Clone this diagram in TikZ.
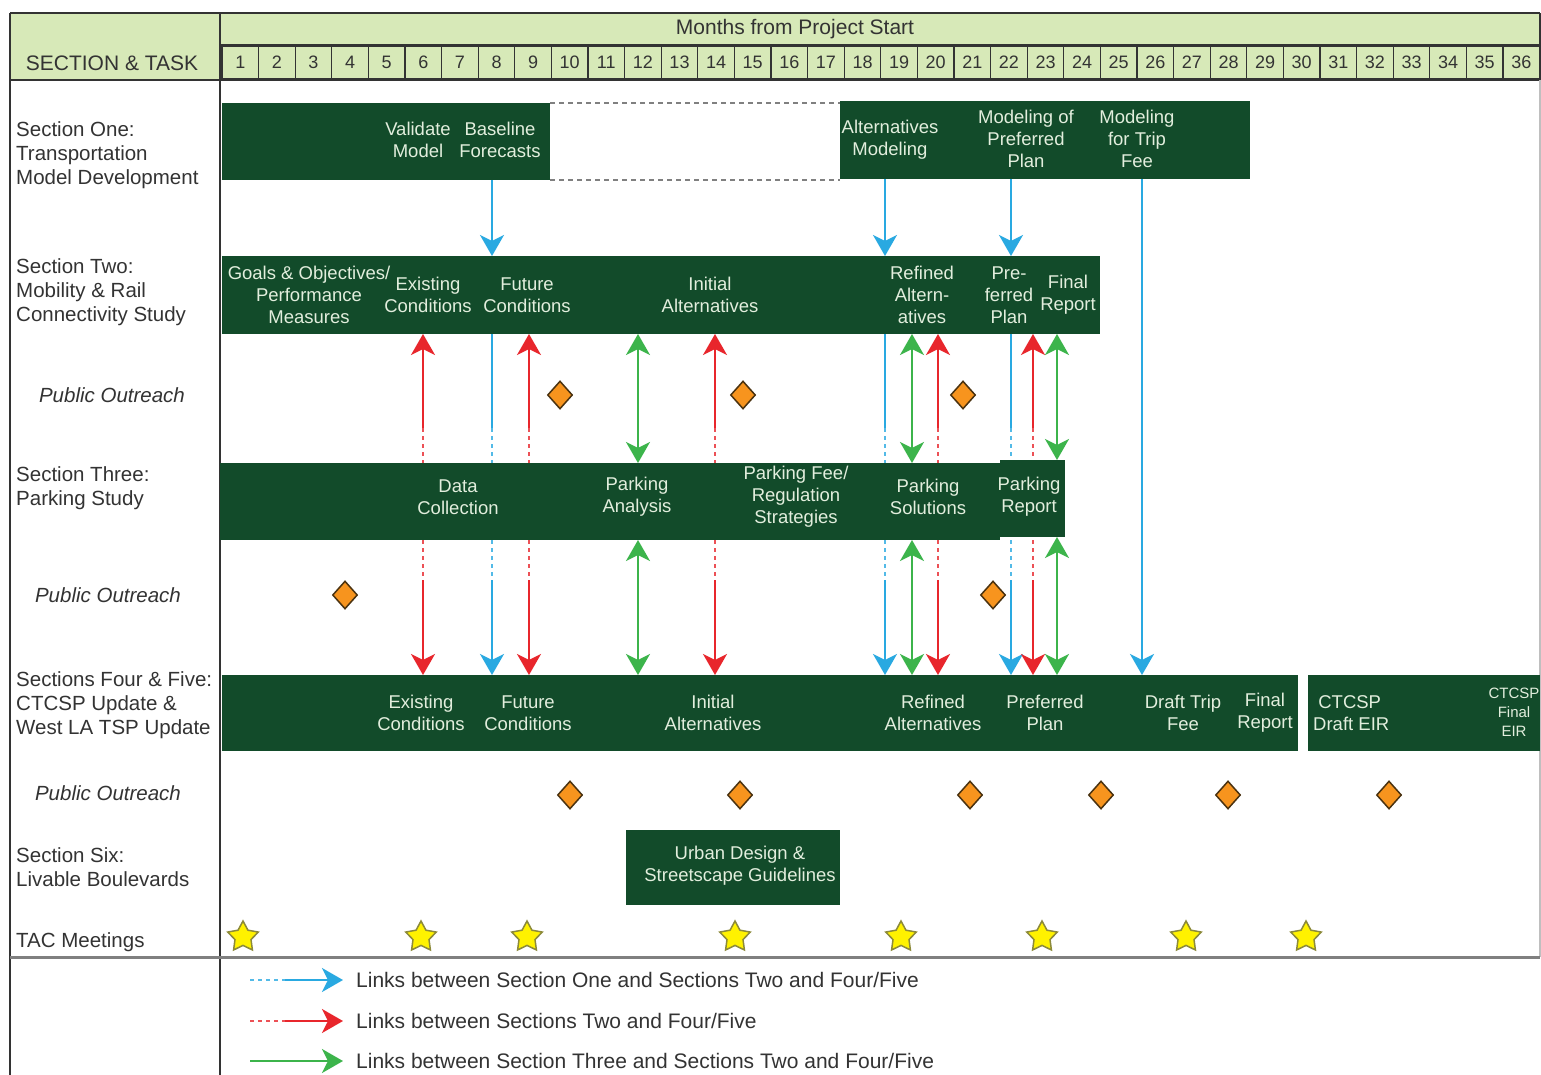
\documentclass[tikz,border=0pt]{standalone}
\usepackage{fontspec}
\setmainfont{Liberation Sans}
\usetikzlibrary{arrows.meta,shapes.geometric,backgrounds,calc}
\definecolor{barG}{HTML}{124B2A}
\definecolor{barT}{HTML}{E2EEDD}
\definecolor{hdrF}{HTML}{D7E9B8}
\definecolor{txtG}{HTML}{333333}
\definecolor{cBlue}{HTML}{29A9E1}
\definecolor{cRed}{HTML}{E8262C}
\definecolor{cGreen}{HTML}{3CB44B}
\definecolor{cOrange}{HTML}{F7941E}
\definecolor{dOut}{HTML}{4A3210}
\definecolor{cYel}{HTML}{FFF200}
\definecolor{sOut}{HTML}{8C8A3A}
\begin{document}
\begin{tikzpicture}[x=1pt,y=-1pt,
  bar/.style={fill=barG, draw=none, anchor=north west, inner sep=0pt, outer sep=0pt},
  bt/.style={text=barT, font=\fontsize{18.5}{22}\selectfont, align=center, inner sep=0pt},
  lbl/.style={font=\fontsize{20.5}{24}\selectfont, align=left, anchor=west, inner sep=0pt, text=txtG},
  po/.style={font=\fontsize{20.5}{24}\selectfont\itshape, inner sep=0pt, text=txtG},
  dia/.style={diamond, fill=cOrange, draw=dOut, line width=1.5pt, minimum width=25pt, minimum height=28pt, inner sep=0pt},
  tac/.style={star, star points=5, star point ratio=1.9, fill=cYel, draw=sOut, line width=1.5pt, minimum size=32pt, inner sep=0pt},
  mcell/.style={draw=txtG, line width=1.2pt, minimum width=36.6pt, minimum height=32pt, inner sep=0pt, font=\fontsize{18}{20}\selectfont, text=txtG},
  lnk/.style={line width=2pt},
  bl/.style={lnk, draw=cBlue},
  rd/.style={lnk, draw=cRed},
  gr/.style={lnk, draw=cGreen},
  dots/.style={line width=1.5pt, dash pattern=on 4pt off 4pt, draw opacity=0.8},
  tip/.tip={Stealth[length=21pt, width=24pt, inset=6pt]},
  lg/.style={font=\fontsize{21}{24}\selectfont, anchor=west, inner sep=0pt, text=txtG}
]
\useasboundingbox (0,0) rectangle (1541,1075);

% ---------- header ----------
\fill[hdrF] (10,13) rectangle (1540,80);
\node[font=\fontsize{21}{24}\selectfont, text=txtG, inner sep=0pt] (months) at (795,29) {Months from Project Start};
\node[font=\fontsize{21}{24}\selectfont, text=txtG, inner sep=0pt] (sectask) at (112,63) {SECTION \& TASK};
\foreach \i in {1,...,36} {
  \node[mcell] (m\i) at ({222+(\i-0.5)*36.6},62.5) {\i};
}
\draw[txtG, line width=2pt] (10,13) -- (1540,13);
\draw[txtG, line width=1.5pt] (220,45) -- (1540,45);
\draw[txtG, line width=2.5pt] (10,80) -- (1540,80);
\draw[txtG, line width=2pt] (1540,13) -- (1540,80);
\draw[gray!50, line width=1.5pt] (1540,80) -- (1540,957);
\draw[txtG, line width=2pt] (10,13) -- (10,1075);
\draw[txtG, line width=2pt] (220,13) -- (220,1075);
\draw[gray, line width=3pt] (10,957) -- (1540,957);

% ---------- row labels ----------
\node[lbl] (l1) at (16,155) {Section One:\\Transportation\\Model Development};
\node[lbl] (l2) at (16,292) {Section Two:\\Mobility \& Rail\\Connectivity Study};
\node[po] (p1) at (112,395) {Public Outreach};
\node[lbl] (l3) at (16,488) {Section Three:\\Parking Study};
\node[po] (p2) at (108,595) {Public Outreach};
\node[lbl] (l4) at (16,705) {Sections Four \& Five:\\CTCSP Update \&\\West LA TSP Update};
\node[po] (p3) at (108,793) {Public Outreach};
\node[lbl] (l6) at (16,867) {Section Six:\\Livable Boulevards};
\node[lbl] (l7) at (16,942) {TAC Meetings};

% ---------- Section One ----------
\node[bar, minimum width=328pt, minimum height=77pt] (s1a) at (222,103) {};
\node[bar, minimum width=410pt, minimum height=78pt] (s1b) at (840,101) {};
\draw[gray, line width=1.5pt, dash pattern=on 5pt off 4pt] (s1a.north east) -- (s1b.north west |- s1a.north);
\draw[gray, line width=1.5pt, dash pattern=on 5pt off 4pt] (s1a.south east) -- (s1b.south west |- s1a.south);
\node[bt] (t1a) at (418,140) {Validate\\Model};
\node[bt] (t1b) at (500,140) {Baseline\\Forecasts};
\node[bt] (t1c) at (890,140) {Alternatives\\Modeling};
\node[bt] (t1d) at (1026,139) {Modeling of\\Preferred\\Plan};
\node[bt] (t1e) at (1137,139) {Modeling\\for Trip\\Fee};

% ---------- Section Two ----------
\node[bar, minimum width=878pt, minimum height=78pt] (s2) at (222,256) {};
\node[bt] (t2a) at (309,295) {Goals \& Objectives/\\Performance\\Measures};
\node[bt] (t2b) at (428,295) {Existing\\Conditions};
\node[bt] (t2c) at (527,295) {Future\\Conditions};
\node[bt] (t2d) at (710,295) {Initial\\Alternatives};
\node[bt] (t2e) at (922,295) {Refined\\Altern-\\atives};
\node[bt] (t2f) at (1009,295) {Pre-\\ferred\\Plan};
\node[bt] (t2g) at (1068,295) {Final\\Report};

% ---------- Section Three ----------
\node[bar, minimum width=780pt, minimum height=77pt] (s3a) at (220,463) {};
\node[bar, minimum width=65pt, minimum height=77pt] (s3b) at (1000,460) {};
\node[bt] (t3a) at (458,497) {Data\\Collection};
\node[bt] (t3b) at (637,497) {Parking\\Analysis};
\node[bt] (t3c) at (796,497) {Parking Fee/\\Regulation\\Strategies};
\node[bt] (t3d) at (928,497) {Parking\\Solutions};
\node[bt] (t3e) at (1029,497) {Parking\\Report};

% ---------- Sections Four & Five ----------
\node[bar, minimum width=1076pt, minimum height=76pt] (s45a) at (222,675) {};
\node[bar, minimum width=232pt, minimum height=76pt] (s45b) at (1308,675) {};
\node[bt] (t4a) at (421,713) {Existing\\Conditions};
\node[bt] (t4b) at (528,713) {Future\\Conditions};
\node[bt] (t4c) at (713,713) {Initial\\Alternatives};
\node[bt] (t4d) at (933,713) {Refined\\Alternatives};
\node[bt] (t4e) at (1045,713) {Preferred\\Plan};
\node[bt] (t4f) at (1183,713) {Draft Trip\\Fee};
\node[bt] (t4g) at (1265,713) {Final\\Report};
\node[bt, align=left, anchor=west] (t4h) at (1313,713) {\ CTCSP\\Draft EIR};
\node[bt, font=\fontsize{15}{19}\selectfont] (t4i) at (1514,712) {CTCSP\\Final\\EIR};

% ---------- Section Six ----------
\node[bar, minimum width=214pt, minimum height=75pt] (s6) at (626,830) {};
\node[bt] (t6) at (740,866) {Urban Design \&\\Streetscape Guidelines};

% ---------- outreach diamonds ----------
\foreach \x [count=\k] in {560,743,963} { \node[dia] (da\k) at (\x,395) {}; }
\foreach \x [count=\k] in {345,993} { \node[dia] (db\k) at (\x,595) {}; }
\foreach \x [count=\k] in {570,740,970,1101,1228,1389} { \node[dia] (dc\k) at (\x,795) {}; }

% ---------- TAC stars ----------
\foreach \x [count=\k] in {243,421,527,735,901,1042,1186,1306} { \node[tac] (st\k) at (\x,937) {}; }

% ---------- legend ----------
\coordinate (la1) at (250,980); \coordinate (lb1) at (285,980); \coordinate (lc1) at (343,980);
\coordinate (la2) at (250,1021); \coordinate (lb2) at (285,1021); \coordinate (lc2) at (343,1021);
\coordinate (la3) at (250,1061); \coordinate (lc3) at (343,1061);
\draw[bl, dots] (la1) -- (lb1);
\draw[bl, -tip] (lb1) -- (lc1);
\draw[rd, dots] (la2) -- (lb2);
\draw[rd, -tip] (lb2) -- (lc2);
\draw[gr, -tip] (la3) -- (lc3);
\node[lg] (lt1) at (356,980) {Links between Section One and Sections Two and Four/Five};
\node[lg] (lt2) at (356,1021) {Links between Sections Two and Four/Five};
\node[lg] (lt3) at (356,1061) {Links between Section Three and Sections Two and Four/Five};

% ---------- link arrows (behind the bars) ----------
\begin{pgfonlayer}{background}
\fill[white] (0,0) rectangle (1541,1075);
\coordinate (ydt) at (0,428);
\coordinate (ydb) at (0,580);
% blue columns
\coordinate (cb1) at (492,0);
\coordinate (cb2) at (885,0);
\coordinate (cb3) at (1011,0);
\coordinate (cb4) at (1142,0);
\draw[bl, -tip] (cb1 |- s1a.south) -- (cb1 |- s2.north);
\draw[bl, -tip] (cb2 |- s1b.south) -- (cb2 |- s2.north);
\draw[bl, -tip] (cb3 |- s1b.south) -- (cb3 |- s2.north);
\draw[bl, -tip] (cb4 |- s1b.south) -- (cb4 |- s45a.north);
\foreach \c in {cb1,cb2,cb3} {
  \draw[bl] (\c |- s2.south) -- (\c |- ydt);
  \draw[bl, dots] (\c |- ydt) -- (\c |- ydb);
  \draw[bl, -tip] (\c |- ydb) -- (\c |- s45a.north);
}
% red columns
\coordinate (cr1) at (423,0);
\coordinate (cr2) at (529,0);
\coordinate (cr3) at (715,0);
\coordinate (cr4) at (938,0);
\coordinate (cr5) at (1033,0);
\foreach \c in {cr1,cr2,cr3,cr4,cr5} {
  \draw[rd, tip-] (\c |- s2.south) -- (\c |- ydt);
  \draw[rd, dots] (\c |- ydt) -- (\c |- ydb);
  \draw[rd, -tip] (\c |- ydb) -- (\c |- s45a.north);
}
% green columns
\coordinate (cg1) at (638,0);
\coordinate (cg2) at (912,0);
\coordinate (cg3) at (1057,0);
\draw[gr, tip-tip] (cg1 |- s2.south) -- (cg1 |- s3a.north);
\draw[gr, tip-tip] (cg1 |- s3a.south) -- (cg1 |- s45a.north);
\draw[gr, tip-tip] (cg2 |- s2.south) -- (cg2 |- s3a.north);
\draw[gr, tip-tip] (cg2 |- s3a.south) -- (cg2 |- s45a.north);
\draw[gr, tip-tip] (cg3 |- s2.south) -- (cg3 |- s3b.north);
\draw[gr, tip-tip] (cg3 |- s3b.south) -- (cg3 |- s45a.north);
\end{pgfonlayer}
\end{tikzpicture}
\end{document}
